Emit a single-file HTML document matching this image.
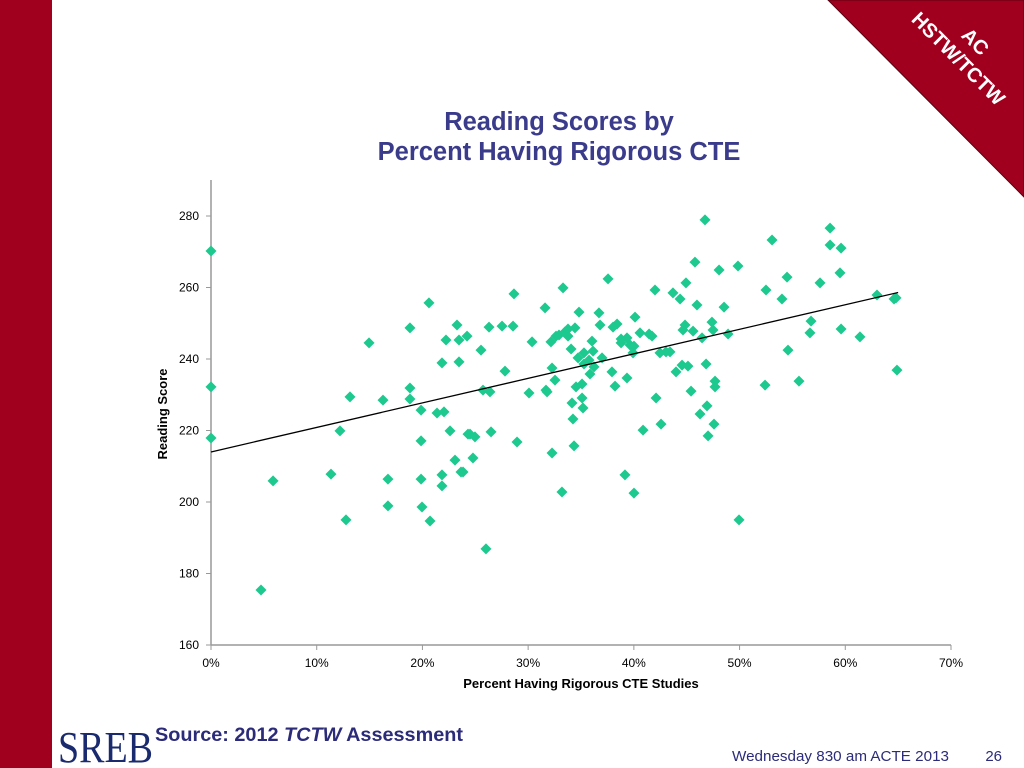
<!DOCTYPE html>
<html><head><meta charset="utf-8"><style>
html,body{margin:0;padding:0;width:1024px;height:768px;overflow:hidden;background:#fff;font-family:"Liberation Sans",Arial,sans-serif}
</style></head><body>
<svg width="1024" height="768" viewBox="0 0 1024 768" style="position:absolute;left:0;top:0">
<rect x="0" y="0" width="52" height="768" fill="#A0001E"/>
<polygon points="828,0 1024,0 1024,197" fill="#A0001E" stroke="#5a0010" stroke-width="1"/>
<g transform="translate(962,55) rotate(45)">
<text x="0" y="-12" text-anchor="middle" fill="#fff" font-size="20" font-weight="bold">AC</text>
<text x="0" y="12" text-anchor="middle" fill="#fff" font-size="20" font-weight="bold">HSTW/TCTW</text>
</g>
<text x="559" y="130" text-anchor="middle" fill="#3B3B8C" font-size="25.5" font-weight="bold">Reading Scores by</text>
<text x="559" y="160" text-anchor="middle" fill="#3B3B8C" font-size="25.5" font-weight="bold">Percent Having Rigorous CTE</text>
<g id="plot"></g>
<text x="581" y="688" text-anchor="middle" font-size="13" font-weight="bold" fill="#000">Percent Having Rigorous CTE Studies</text>
<text transform="translate(167,414) rotate(-90)" text-anchor="middle" font-size="13" font-weight="bold" fill="#000">Reading Score</text>
<text x="58" y="762" font-family="'Liberation Serif',serif" font-size="44" fill="#1a2a6e" textLength="95" lengthAdjust="spacingAndGlyphs">SREB</text>
<text x="155" y="741" font-size="19.8" font-weight="bold" fill="#2B2B7A" textLength="308" lengthAdjust="spacingAndGlyphs">Source: 2012 <tspan font-style="italic">TCTW</tspan> Assessment</text>
<text x="732" y="761" font-size="15" fill="#2B2B7A" textLength="217" lengthAdjust="spacingAndGlyphs">Wednesday 830 am ACTE 2013</text>
<text x="1002" y="761" font-size="15" fill="#2B2B7A" text-anchor="end">26</text>
</svg>
<script>
const xPct=[0,0,0,4.73,5.87,11.35,12.2,12.77,13.15,14.95,16.27,16.74,16.74,18.82,18.82,18.82,19.87,19.87,19.87,19.96,20.62,20.72,21.85,21.85,21.85,21.38,22.04,22.23,22.61,23.08,23.27,23.46,23.65,23.46,23.84,24.22,24.31,24.5,24.78,24.97,25.54,25.73,26.01,26.3,26.39,26.49,27.53,27.81,28.57,28.66,28.95,30.08,30.37,31.6,31.69,31.79,32.26,32.16,32.26,32.54,32.64,32.92,33.3,33.2,33.49,33.77,33.77,34.06,34.15,34.24,34.43,34.34,34.53,34.72,34.81,35.1,35.1,35.19,35.28,35.28,35.76,36.14,35.85,36.23,36.04,36.7,36.8,36.99,37.56,37.93,38.03,38.22,38.41,38.79,38.79,39.16,39.35,39.35,39.64,39.92,40.01,40.11,40.01,40.58,40.87,41.44,41.72,42.0,42.1,42.47,42.57,43.04,43.42,43.7,43.99,44.37,44.65,44.84,44.56,44.93,45.12,45.6,45.41,45.78,45.97,46.45,46.26,46.73,46.83,46.92,47.02,47.39,47.49,47.68,47.58,47.68,48.06,48.53,48.91,49.95,49.85,52.41,52.5,53.07,54.01,54.49,54.58,55.62,56.66,56.76,57.61,58.56,58.56,59.5,59.6,59.6,61.39,63.0,64.61,64.89,64.8];
const score=[270.2,232.2,217.9,175.4,205.9,207.8,219.9,195.0,229.4,244.5,228.5,206.4,198.9,248.7,231.9,228.8,225.7,217.1,206.4,198.6,255.7,194.7,207.6,204.5,238.9,224.9,225.2,245.3,219.9,211.7,249.5,245.3,208.4,239.2,208.4,246.4,219.0,219.0,212.3,218.2,242.5,231.3,186.9,248.9,230.8,219.6,249.2,236.6,249.2,258.2,216.8,230.5,244.8,254.3,231.3,230.8,237.5,244.8,213.7,234.1,246.4,246.7,259.9,202.8,247.6,248.4,246.4,242.8,227.7,223.2,248.7,215.7,232.2,240.3,253.1,233.0,229.1,226.3,241.7,238.6,239.7,242.2,235.8,237.8,245.0,252.9,249.5,240.3,262.4,236.4,248.9,232.4,249.8,245.6,244.5,207.6,234.7,245.9,243.9,241.7,202.5,251.7,243.6,247.3,220.1,247.0,246.4,259.3,229.1,241.7,221.8,242.0,242.0,258.5,236.4,256.8,248.1,249.5,238.3,261.3,238.0,247.8,231.0,267.1,255.1,245.9,224.6,278.9,238.6,226.9,218.5,250.3,248.1,232.2,221.8,233.8,264.9,254.5,247.0,195.0,266.0,232.7,259.3,273.3,256.8,262.9,242.5,233.8,247.3,250.6,261.3,276.6,271.9,264.1,271.0,248.4,246.2,257.9,256.8,236.9,257.1];
const trendX=[0,65];
const trendY=[214.0,258.6];
const xTicks=[0,10,20,30,40,50,60,70];
const yTicks=[160,180,200,220,240,260,280];
const NS='http://www.w3.org/2000/svg';
const X=v=>211+(v/70)*740;
const Y=v=>645-(v-160)/120*429;
const g=document.getElementById('plot');
function mk(t,a){const e=document.createElementNS(NS,t);for(const k in a)e.setAttribute(k,a[k]);g.appendChild(e);return e;}
let e=mk('line',{x1:211,y1:180,x2:211,y2:645,stroke:'#999','stroke-width':1.5});


e=mk('line',{x1:211,y1:645,x2:951,y2:645,stroke:'#999','stroke-width':1.5});


yTicks.forEach(t=>{
 const l=mk('line',{x1:206,y1:Y(t),x2:211,y2:Y(t),stroke:'#999'});
 
 
 const tx=mk('text',{x:199,y:Y(t)+4,'text-anchor':'end','font-size':12,fill:'#000'});
 tx.textContent=t;
 
 
});
xTicks.forEach(t=>{
 const l=mk('line',{x1:X(t),y1:645,x2:X(t),y2:650,stroke:'#999'});
 
 
 const tx=mk('text',{x:X(t),y:667,'text-anchor':'middle','font-size':12,fill:'#000'});
 tx.textContent=t+'%';
 
 
});
xPct.forEach((v,i)=>{
 const cx=X(v),cy=Y(score[i]),r=5.5;
 const p=mk('polygon',{points:`${cx},${cy-r} ${cx+r},${cy} ${cx},${cy+r} ${cx-r},${cy}`,fill:'#1DC98F'});
 
 
});
e=mk('line',{x1:X(trendX[0]),y1:Y(trendY[0]),x2:X(trendX[1]),y2:Y(trendY[1]),stroke:'#000','stroke-width':1.3});


</script>
</body></html>
